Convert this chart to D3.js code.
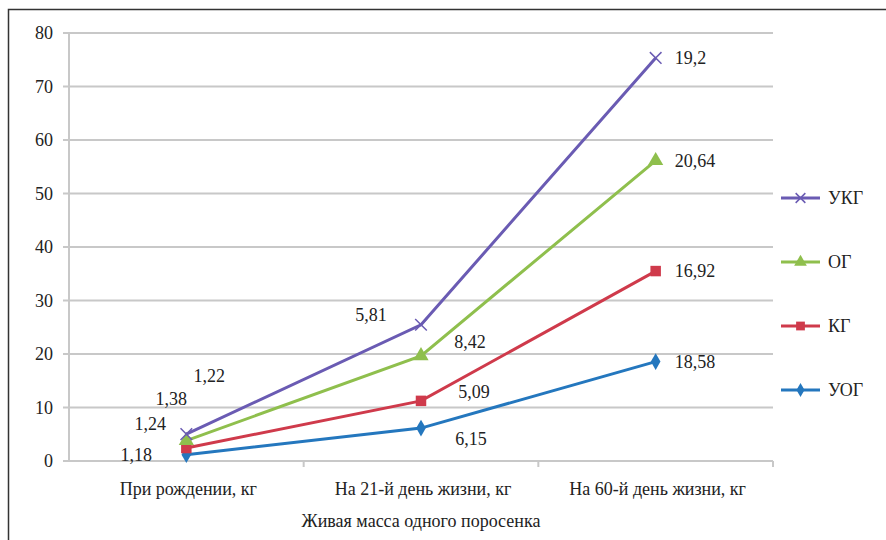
<!DOCTYPE html>
<html>
<head>
<meta charset="utf-8">
<script src="https://cdn.jsdelivr.net/npm/d3@7"></script>
<style>
  body { margin: 0; background: #fff; font-family: "Times New Roman", "Liberation Serif", serif; }
</style>
</head>
<body>
<script>
// данные: прирост по периодам (накопленная диаграмма)
const categories = ["При рождении, кг", "На 21-й день жизни, кг", "На 60-й день жизни, кг"];
const groups = ["УОГ", "КГ", "ОГ", "УКГ"];
const uog = [1.18, 6.15, 18.58];
const kg  = [1.24, 5.09, 16.92];
const og  = [1.38, 8.42, 20.64];
const ukg = [1.22, 5.81, 19.2];
const yTicks = [0, 10, 20, 30, 40, 50, 60, 70, 80];

const width = 886, height = 540;
const margin = {top: 33, right: 113, bottom: 79, left: 69};
const serifFont = "Times New Roman";

const series = [
  {name: "УОГ", values: uog, color: "#2477be", symbol: d3.symbolDiamond, size: 80},
  {name: "КГ",  values: kg,  color: "#cf3a4b", symbol: d3.symbolSquare, size: 110},
  {name: "ОГ",  values: og,  color: "#8fbf4d", symbol: d3.symbolTriangle, size: 100},
  {name: "УКГ", values: ukg, color: "#6a5bb3", symbol: d3.symbolX, size: 90}
];
// накопленные значения
const stack = d3.stack().keys(groups)(categories.map((c, i) => {
  const o = {};
  series.forEach(s => o[s.name] = s.values[i]);
  return o;
}));
series.forEach((s, k) => s.cum = stack[k].map(d => d[1]));

const x = d3.scaleBand(categories, [margin.left, width - margin.right]);
const y = d3.scaleLinear([0, 80], [height - margin.bottom, margin.top]);
const cx = c => x(c) + x.bandwidth() / 2;

const svg = d3.select("body").append("svg")
    .attr("width", width).attr("height", height)
    .style("font-family", `"${serifFont}"`);

svg.append("rect")
    .attr("x", 8.5).attr("y", 9.5)
    .attr("width", 900).attr("height", 560)
    .attr("fill", "#fff").attr("stroke", "#333").attr("stroke-width", 1.5);

// сетка
svg.append("g")
  .selectAll("line")
  .data(yTicks)
  .join("line")
    .attr("x1", margin.left - 6).attr("x2", width - margin.right)
    .attr("y1", d => y(d)).attr("y2", d => y(d))
    .attr("stroke", "#c8c8c8").attr("stroke-width", 2);

svg.append("line")
    .attr("x1", margin.left).attr("x2", margin.left)
    .attr("y1", y(80)).attr("y2", y(0))
    .attr("stroke", "#c8c8c8").attr("stroke-width", 2);

// деления оси X
svg.append("g")
  .selectAll("line")
  .data(categories.slice(1).concat([null]))
  .join("line")
    .attr("x1", d => d ? x(d) : width - margin.right)
    .attr("x2", d => d ? x(d) : width - margin.right)
    .attr("y1", y(0)).attr("y2", y(0) + 6)
    .attr("stroke", "#c8c8c8").attr("stroke-width", 2);

svg.append("g")
  .selectAll("text")
  .data(yTicks)
  .join("text")
    .attr("x", 53).attr("y", d => y(d) + 6)
    .attr("text-anchor", "end")
    .text(d => d);

svg.append("g")
  .selectAll("text")
  .data(categories)
  .join("text")
    .attr("x", d => cx(d) + 2).attr("y", 495)
    .attr("text-anchor", "middle")
    .text(d => d);

svg.append("text")
    .attr("x", 421).attr("y", 527)
    .attr("text-anchor", "middle")
    .text("Живая масса одного поросенка");

const line = d3.line().x((d, i) => cx(categories[i])).y(d => y(d));

const g = svg.append("g")
  .selectAll("g")
  .data(series)
  .join("g");

g.append("path")
    .attr("d", d => line(d.cum))
    .attr("fill", "none")
    .attr("stroke", d => d.color)
    .attr("stroke-width", 3);

g.each(function(s) {
  d3.select(this).selectAll("path.m")
    .data(s.cum)
    .join("path")
      .attr("class", "m")
      .attr("transform", (d, i) => `translate(${cx(categories[i])},${y(d)})`)
      .attr("d", d3.symbol(s.symbol, s.size))
      .attr("fill", s.color)
      .attr("stroke", s.symbol === d3.symbolX ? s.color : "none")
      .attr("stroke-width", 1.5);
});

// подписи значений (смещения от точки)
const offsets = {
  "УОГ": [[-50, 6, "middle"], [50, 17, "middle"], [19, 6, "start"]],
  "КГ":  [[-36, -18, "middle"], [53, -3, "middle"], [19, 6, "start"]],
  "ОГ":  [[-15, -36, "middle"], [49, -8, "middle"], [19, 6, "start"]],
  "УКГ": [[23, -52, "middle"], [-50, -4, "middle"], [19, 6, "start"]]
};
const fmt = v => String(v).replace(".", ",");

g.each(function(s) {
  d3.select(this).selectAll("text")
    .data(s.cum)
    .join("text")
      .attr("x", (d, i) => cx(categories[i]) + offsets[s.name][i][0])
      .attr("y", (d, i) => y(d) + offsets[s.name][i][1])
      .attr("text-anchor", (d, i) => offsets[s.name][i][2])
      .text((d, i) => fmt(s.values[i]));
});

// легенда
const legend = svg.append("g")
  .selectAll("g")
  .data(series.slice().reverse())
  .join("g")
    .attr("transform", (d, i) => `translate(781,${198 + i * 64})`);

legend.append("line")
    .attr("x1", 0).attr("x2", 39)
    .attr("stroke", d => d.color).attr("stroke-width", 3);

legend.append("path")
    .attr("transform", "translate(19.5,0)")
    .attr("d", d => d3.symbol(d.symbol, d.size * 0.7)())
    .attr("fill", d => d.color)
    .attr("stroke", d => d.symbol === d3.symbolX ? d.color : "none")
    .attr("stroke-width", 1.5);

legend.append("text")
    .attr("x", 47).attr("y", 6)
    .text(d => d.name);

svg.selectAll("text")
    .attr("font-family", serifFont)
    .style("font-family", `"${serifFont}"`)
    .attr("font-size", 18)
    .attr("fill", "#222");
</script>
</body>
</html>
